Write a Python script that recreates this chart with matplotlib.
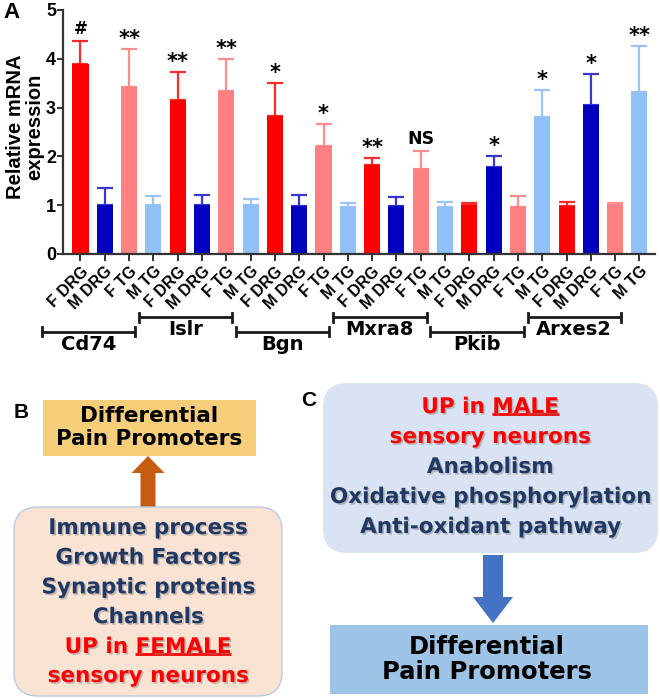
import matplotlib
matplotlib.use("Agg")
import matplotlib.pyplot as plt
import matplotlib.patheffects as pe
from matplotlib.patches import FancyBboxPatch, Rectangle, FancyArrow
import numpy as np

# ---------------- data ----------------
genes = ["Cd74", "Islr", "Bgn", "Mxra8", "Pkib", "Arxes2"]
groups = ["F DRG", "M DRG", "F TG", "M TG"]
means = [
    [3.89, 1.00, 3.43, 1.00],   # Cd74
    [3.15, 1.00, 3.35, 1.00],   # Islr
    [2.82, 0.98, 2.21, 0.96],   # Bgn
    [1.83, 0.98, 1.75, 0.97],   # Mxra8
    [1.00, 1.78, 0.97, 2.80],   # Pkib
    [0.99, 3.06, 1.00, 3.32],   # Arxes2
]
sems = [
    [0.47, 0.36, 0.78, 0.19],
    [0.58, 0.21, 0.64, 0.13],
    [0.69, 0.23, 0.45, 0.09],
    [0.14, 0.19, 0.37, 0.09],
    [0.04, 0.22, 0.21, 0.57],
    [0.07, 0.62, 0.05, 0.95],
]
marks = [
    ["#", "", "**", ""],
    ["**", "", "**", ""],
    ["*", "", "*", ""],
    ["**", "", "NS", ""],
    ["", "*", "", "*"],
    ["", "*", "", "**"],
]
yticks = [0, 1, 2, 3, 4, 5]

b_lines = ["Immune process", "Growth Factors", "Synaptic proteins", "Channels"]
c_lines = ["Anabolism", "Oxidative phosphorylation", "Anti-oxidant pathway"]

# ---------------- styles ----------------
bar_colors = ["#FF0000", "#0000BE", "#FF8080", "#90C0F8"]
err_colors = ["#FF2A2A", "#3838D0", "#FF8C8C", "#98C4F8"]
navy = "#1F3864"
red = "#FF0000"

fig = plt.figure(figsize=(6.6, 6.98), dpi=100)

# overlay axes in pixel coords
ov = fig.add_axes([0, 0, 1, 1])
ov.set_xlim(0, 660)
ov.set_ylim(698, 0)
ov.axis("off")
ov.set_zorder(0)

# ---------------- panel A ----------------
ax = fig.add_axes([63 / 660, 1 - 254 / 698, (655 - 63) / 660, 244 / 698])
ax.set_zorder(1)
ax.patch.set_alpha(0)

n_g = len(groups)
labels = []
for gi, g in enumerate(genes):
    for k in range(n_g):
        x = gi * n_g + k
        m = means[gi][k]
        s = sems[gi][k]
        ax.bar(x, m, width=0.66, color=bar_colors[k], zorder=2)
        ax.errorbar(x, m, yerr=[[0], [s]], fmt="none", ecolor=err_colors[k],
                    elinewidth=1.6, capsize=5.5, capthick=1.6, zorder=1)
        t = marks[gi][k]
        if t:
            if t == "NS":
                ax.text(x, m + s + 0.06, t, ha="center", va="bottom",
                        fontsize=12.5, fontweight="bold", family="DejaVu Sans")
            elif t == "#":
                ax.text(x, m + s + 0.06, t, ha="center", va="bottom",
                        fontsize=12, fontweight="bold", family="DejaVu Sans")
            else:
                ax.text(x, m + s + 0.0, t, ha="center", va="bottom",
                        fontsize=15, fontweight="bold", family="DejaVu Sans")
        labels.append(groups[k])

xs = np.arange(len(labels))
ax.set_xticks(xs)
ax.set_xticklabels(labels, rotation=45, ha="right", va="top",
                   rotation_mode="anchor", fontsize=11.5, fontweight="bold",
                   family="Liberation Sans")
ax.set_yticks(yticks)
ax.set_yticklabels([str(v) for v in yticks], fontsize=13, fontweight="bold",
                   family="Liberation Sans")
ax.set_xlim(-0.72, 23.64)
ax.set_ylim(0, 5)
for sp in ["top", "right"]:
    ax.spines[sp].set_visible(False)
for sp in ["left", "bottom"]:
    ax.spines[sp].set_linewidth(1.6)
    ax.spines[sp].set_color("#333333")
ax.tick_params(axis="x", length=5, width=1.4, color="#333333", pad=2)
ax.tick_params(axis="y", length=4, width=1.4, color="#333333", pad=1)

fig.text(25 / 660, 1 - 127 / 698, "Relative mRNA\nexpression", rotation=90,
         ha="center", va="center", fontsize=14.5, fontweight="bold",
         family="Liberation Sans", linespacing=1.05)

# gene brackets (x in data units, y in axes fraction)
tr = ax.get_xaxis_transform()
for gi, g in enumerate(genes):
    x0 = gi * n_g - 1.6
    x1 = gi * n_g + 2.24
    upper = gi % 2 == 1
    yb = -0.26 if upper else -0.318
    ax.plot([x0, x1], [yb, yb], transform=tr, color="#1a1a1a", lw=2,
            clip_on=False, solid_capstyle="butt")
    for xe in (x0, x1):
        ax.plot([xe, xe], [yb - 0.018, yb + 0.018], transform=tr,
                color="#1a1a1a", lw=2, clip_on=False)
    ax.text((x0 + x1) / 2, yb - 0.012, g, transform=tr, ha="center", va="top",
            fontsize=14, fontweight="bold", family="DejaVu Sans",
            clip_on=False)

# panel letters
ov.text(3, 12, "A", fontsize=16, fontweight="bold", family="Liberation Sans",
        ha="left", va="center")
ov.text(14, 412, "B", fontsize=15, fontweight="bold", family="Liberation Sans",
        ha="left", va="center")
ov.text(301, 401, "C", fontsize=15, fontweight="bold", family="Liberation Sans",
        ha="left", va="center")

shadow = [pe.withSimplePatchShadow(offset=(1.2, -1.2), shadow_rgbFace="#808080",
                                   alpha=0.45)]
fs = 15.5
renderer = fig.canvas.get_renderer()


def underlined(x, y, pre, word, color):
    full = ov.text(x, y, pre + word, ha="center", va="center", fontsize=fs,
                   fontweight="bold", color=color, family="DejaVu Sans",
                   path_effects=shadow)
    bb = full.get_window_extent(renderer)
    tmp = ov.text(0, 0, word, fontsize=fs, fontweight="bold",
                  family="DejaVu Sans")
    wb = tmp.get_window_extent(renderer)
    tmp.remove()
    inv = ov.transData.inverted()
    (ux0, uy), (ux1, _) = inv.transform([(bb.x1 - wb.width, bb.y0 + 3),
                                         (bb.x1, bb.y0 + 3)])
    ov.plot([ux0, ux1], [uy, uy], color=color, lw=2, solid_capstyle="butt")


# ---------------- panel B ----------------
ov.add_patch(Rectangle((43, 400), 213, 56, facecolor="#F6CD78",
                       edgecolor="none"))
ov.text(149.5, 427.5, "Differential\nPain Promoters", ha="center", va="center",
        fontsize=15.5, fontweight="bold", family="DejaVu Sans",
        linespacing=1.15, color="black")
ov.add_patch(FancyArrow(148, 508, 0, -52, width=15, head_width=33,
                        head_length=17, length_includes_head=True,
                        facecolor="#C55A11", edgecolor="none"))
ov.add_patch(FancyBboxPatch((14, 507), 268, 189,
                            boxstyle="round,pad=0,rounding_size=24",
                            facecolor="#FBE3D4", edgecolor="#B9C9E4", lw=1))
for i, line in enumerate(b_lines):
    ov.text(148, 528 + i * 29.7, line, ha="center", va="center", fontsize=fs,
            fontweight="bold", color=navy, family="DejaVu Sans",
            path_effects=shadow)
underlined(148, 647, "UP in ", "FEMALE", red)
ov.text(148, 676, "sensory neurons", ha="center", va="center", fontsize=fs,
        fontweight="bold", color=red, family="DejaVu Sans",
        path_effects=shadow)

# ---------------- panel C ----------------
ov.add_patch(FancyBboxPatch((323, 383), 335, 170,
                            boxstyle="round,pad=0,rounding_size=24",
                            facecolor="#DAE3F3", edgecolor="none"))
underlined(490, 407, "UP in ", "MALE", red)
ov.text(490, 437, "sensory neurons", ha="center", va="center", fontsize=fs,
        fontweight="bold", color=red, family="DejaVu Sans",
        path_effects=shadow)
for i, line in enumerate(c_lines):
    ov.text(490, 467 + i * 30, line, ha="center", va="center", fontsize=fs,
            fontweight="bold", color=navy, family="DejaVu Sans",
            path_effects=shadow)
ov.add_patch(FancyArrow(493, 555, 0, 68, width=20, head_width=40,
                        head_length=26, length_includes_head=True,
                        facecolor="#4472C4", edgecolor="none"))
ov.add_patch(Rectangle((330, 625), 318, 69, facecolor="#9DC3E6",
                       edgecolor="none"))
ov.text(487, 659.5, "Differential\nPain Promoters", ha="center", va="center",
        fontsize=17.5, fontweight="bold", family="DejaVu Sans",
        linespacing=1.1, color="black")

fig.savefig("out.png", dpi=100)
